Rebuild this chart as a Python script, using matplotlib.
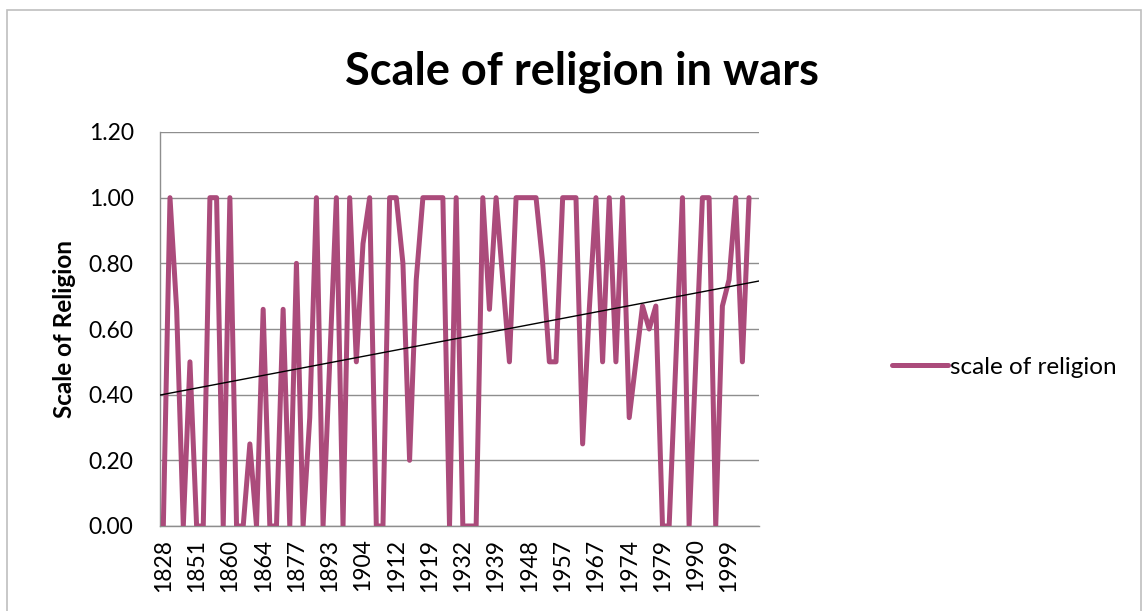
import matplotlib
matplotlib.use("Agg")
import matplotlib.pyplot as plt
import numpy as np
from matplotlib.patches import Rectangle

plt.rcParams['font.family'] = ['Lato', 'DejaVu Sans']

title = "Scale of religion in wars"
y_label = "Scale of Religion"
series_name = "scale of religion"

values = [0, 1, 0.66, 0, 0.5, 0, 0, 1, 1, 0,
          1, 0, 0, 0.25, 0, 0.66, 0, 0, 0.66, 0,
          0.8, 0, 0.33, 1, 0, 0.5, 1, 0, 1, 0.5,
          0.86, 1, 0, 0, 1, 1, 0.8, 0.2, 0.75, 1,
          1, 1, 1, 0, 1, 0, 0, 0, 1, 0.66,
          1, 0.75, 0.5, 1, 1, 1, 1, 0.8, 0.5, 0.5,
          1, 1, 1, 0.25, 0.66, 1, 0.5, 1, 0.5, 1,
          0.33, 0.5, 0.67, 0.6, 0.67, 0, 0, 0.5, 1, 0,
          0.5, 1, 1, 0, 0.67, 0.75, 1, 0.5, 1]
tick_years = ["1828", "1851", "1860", "1864", "1877", "1893", "1904", "1912", "1919",
              "1932", "1939", "1948", "1957", "1967", "1974", "1979", "1990", "1999"]
n_categories = 90  # last category slot is empty
label_step = 5

W, H = 1143, 611
fig = plt.figure(figsize=(W / 100, H / 100), dpi=100)
ax = fig.add_axes([160 / W, 1 - 526 / H, (759 - 160) / W, (526 - 132) / H])

x = np.arange(len(values))
line_color = '#AB4B7B'
ax.plot(x, values, color=line_color, lw=3.6, solid_joinstyle='round',
        solid_capstyle='round', label=series_name, zorder=3)

xl = (-0.5, n_categories - 0.5)
coef = np.polyfit(x, values, 1)
xt = np.array(xl)
ax.plot(xt, np.polyval(coef, xt), color='black', lw=1.0, zorder=4)

ax.set_xlim(*xl)
ax.set_ylim(0, 1.2)
yt = np.arange(0, 1.21, 0.2)
ax.set_yticks(yt)
ax.set_yticklabels([f"{v:.2f}" for v in yt], fontsize=16.5)
ax.set_xticks(np.arange(0, label_step * len(tick_years), label_step))
ax.set_xticklabels(tick_years, rotation=90, fontsize=16.5)
ax.tick_params(axis='x', length=0, pad=9)
ax.tick_params(axis='y', length=0, pad=19)

ax.grid(axis='y', color='#8E8E8E', lw=1.0)
ax.set_axisbelow(True)
for s in ['top', 'right']:
    ax.spines[s].set_visible(False)
for s in ['left', 'bottom']:
    ax.spines[s].set_color('#8E8E8E')
    ax.spines[s].set_linewidth(1.0)

ax.set_ylabel(y_label, fontsize=17.5, fontweight='bold')
ax.yaxis.set_label_coords((76 - 160) / (759 - 160), 0.5)
fig.text(582 / W, 1 - 72 / H, title, fontsize=32.5, fontweight='bold',
         ha='center', va='center')

leg = fig.legend(loc='center left', bbox_to_anchor=(870 / W, 1 - 367 / H),
                 frameon=False, fontsize=17.5, handlelength=2.3, handletextpad=0.1)

fig.patches.append(Rectangle((7 / W, -0.05), (1141 - 7) / W, 1.05 - 10 / H,
                             transform=fig.transFigure, fill=False,
                             edgecolor='#BFBFBF', lw=1.2))

fig.savefig("out.png", dpi=100)
